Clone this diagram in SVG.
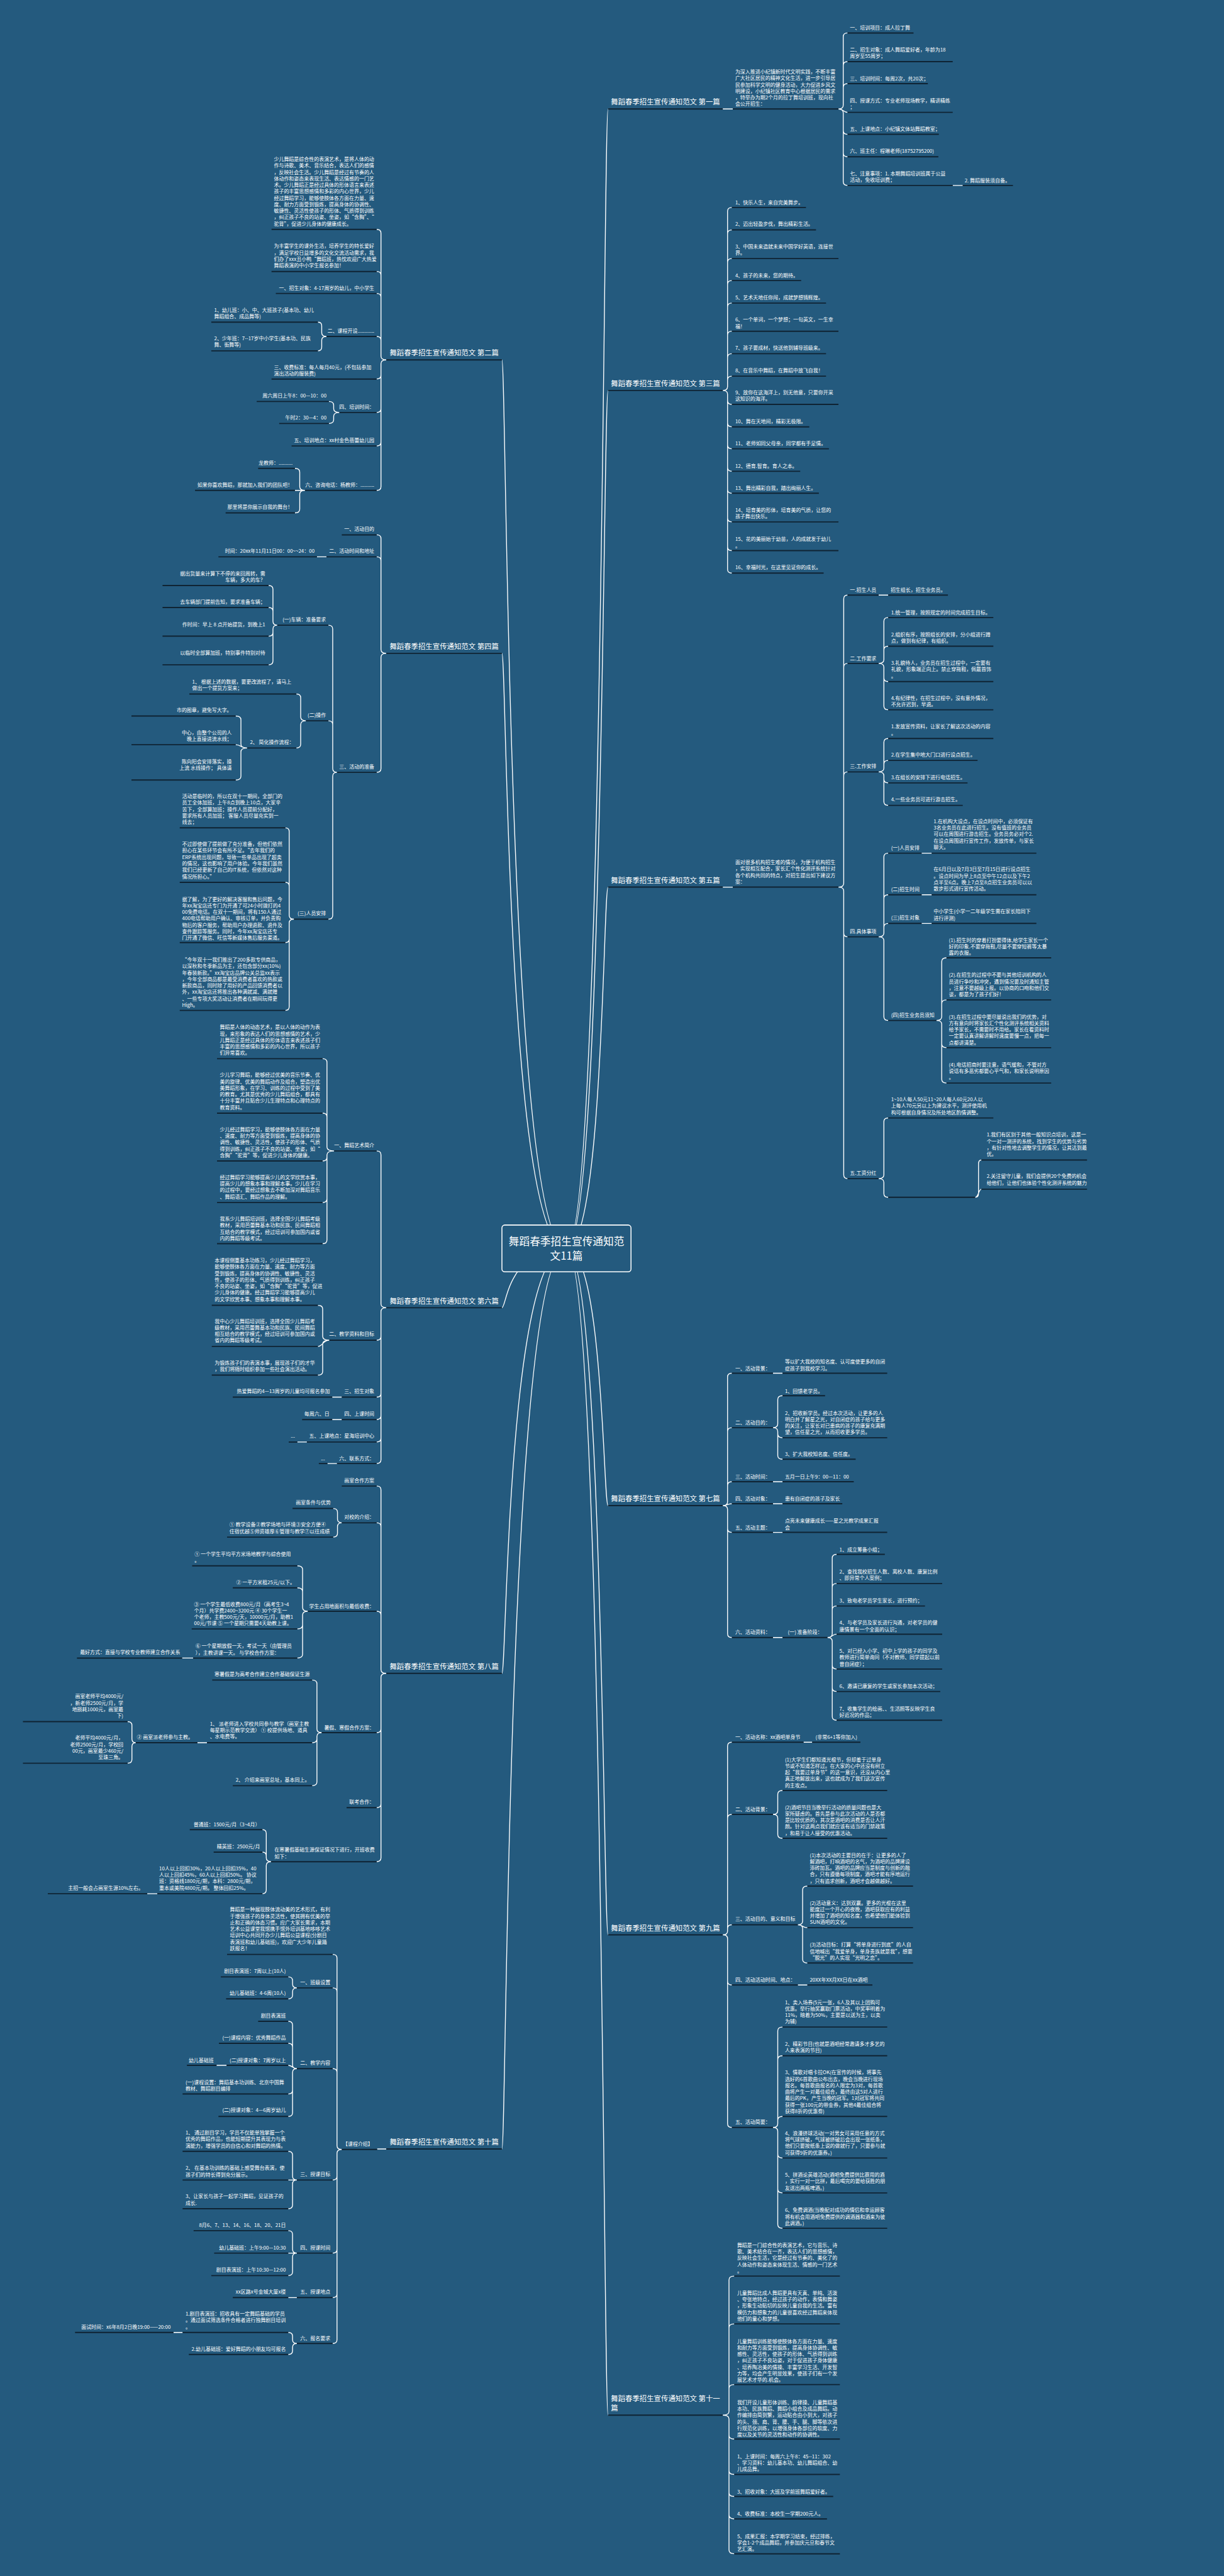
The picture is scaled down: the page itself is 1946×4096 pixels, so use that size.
<svg xmlns="http://www.w3.org/2000/svg" width="1946" height="4096" viewBox="0 0 1946 4096">
<style>
.t{font-family:"Noto Sans CJK SC","Noto Sans",sans-serif;font-size:10.5px;fill:#fff}
.h{font-size:15px}
.r{font-size:22px;text-anchor:middle}
.e{text-anchor:end}
.u{stroke:#0f2333;stroke-width:2.5;fill:none}
.c{stroke:#fff;stroke-width:1.8;fill:none}
</style>
<rect width="1946" height="4096" fill="#245a7e"/>
<g transform="scale(0.76)">
<g id="connectors" class="c">
<path d="M1185 2612C1262 2612 1262 228 1272 228M1185 2612C1262 2612 1262 817 1272 817M1185 2612C1262 2612 1262 1856 1272 1856M1185 2612C1262 2612 1262 3150 1272 3150M1185 2612C1262 2612 1262 4048 1272 4048M1185 2612C1262 2612 1262 5053 1272 5053"/>
<path d="M1185 2612C1060 2612 1060 753 1050 753M1185 2612C1060 2612 1060 1367 1050 1367M1185 2612C1060 2612 1060 2736 1050 2736M1185 2612C1060 2612 1060 3501 1050 3501M1185 2612C1060 2612 1060 4496 1050 4496"/>
<path d="M1512 228H1533M1993 388H2014M1754 228Q1764 228 1764 220V77Q1764 69 1773 69M1754 228Q1764 228 1764 220V137Q1764 129 1773 129M1754 228Q1764 228 1764 220V183Q1764 175 1773 175M1754 228C1764 228 1764 235 1773 235M1754 228Q1764 228 1764 236V273Q1764 281 1773 281M1754 228Q1764 228 1764 236V320Q1764 328 1773 328M1754 228Q1764 228 1764 236V380Q1764 388 1773 388"/>
<path d="M1512 817Q1522 817 1522 809V442Q1522 434 1531 434M1512 817Q1522 817 1522 809V489Q1522 481 1531 481M1512 817Q1522 817 1522 809V549Q1522 541 1531 541M1512 817Q1522 817 1522 809V595Q1522 587 1531 587M1512 817Q1522 817 1522 809V642Q1522 634 1531 634M1512 817Q1522 817 1522 809V701Q1522 693 1531 693M1512 817Q1522 817 1522 809V748Q1522 740 1531 740M1512 817Q1522 817 1522 809V795Q1522 787 1531 787M1512 817Q1522 817 1522 825V838Q1522 846 1531 846M1512 817Q1522 817 1522 825V885Q1522 893 1531 893M1512 817Q1522 817 1522 825V931Q1522 939 1531 939M1512 817Q1522 817 1522 825V978Q1522 986 1531 986M1512 817Q1522 817 1522 825V1024Q1522 1032 1531 1032M1512 817Q1522 817 1522 825V1084Q1522 1092 1531 1092M1512 817Q1522 817 1522 825V1144Q1522 1152 1531 1152M1512 817Q1522 817 1522 825V1191Q1522 1199 1531 1199"/>
<path d="M1512 1856H1533M1754 1856Q1765 1856 1765 1848V1253Q1765 1245 1773 1245M1754 1856Q1765 1856 1765 1848V1396Q1765 1388 1773 1388M1754 1856Q1765 1856 1765 1848V1623Q1765 1615 1773 1615M1754 1856Q1765 1856 1765 1864V1952Q1765 1960 1773 1960M1754 1856Q1765 1856 1765 1864V2458Q1765 2466 1773 2466M1838 1245H1858"/>
<path d="M1838 1388Q1849 1388 1849 1380V1300Q1849 1292 1858 1292M1838 1388Q1849 1388 1849 1380V1360Q1849 1352 1858 1352M1838 1388Q1849 1388 1849 1396V1418Q1849 1426 1858 1426M1838 1388Q1849 1388 1849 1396V1477Q1849 1485 1858 1485"/>
<path d="M1838 1615Q1849 1615 1849 1607V1553Q1849 1545 1858 1545M1838 1615Q1849 1615 1849 1607V1599Q1849 1591 1858 1591M1838 1615Q1849 1615 1849 1623V1630Q1849 1638 1858 1638M1838 1615Q1849 1615 1849 1623V1677Q1849 1685 1858 1685"/>
<path d="M1838 1960Q1849 1960 1849 1952V1793Q1849 1785 1858 1785M1838 1960Q1849 1960 1849 1952V1880Q1849 1872 1858 1872M1838 1960Q1849 1960 1849 1952V1940Q1849 1932 1858 1932M1838 1960Q1849 1960 1849 1968V2127Q1849 2135 1858 2135M1928 1785H1949M1928 1872H1949M1928 1932H1949"/>
<path d="M1959 2135Q1970 2135 1970 2127V2012Q1970 2004 1980 2004M1959 2135Q1970 2135 1970 2127V2100Q1970 2092 1980 2092M1959 2135Q1970 2135 1970 2143V2184Q1970 2192 1980 2192M1959 2135Q1970 2135 1970 2143V2258Q1970 2266 1980 2266"/>
<path d="M1838 2466Q1849 2466 1849 2458V2347Q1849 2339 1858 2339M1838 2466Q1849 2466 1849 2474V2497Q1849 2505 1858 2505M2040 2505Q2047 2505 2047 2497V2435Q2047 2427 2053 2427M2040 2505C2047 2505 2047 2488 2053 2488"/>
<path d="M1512 3150Q1522 3150 1522 3142V2881Q1522 2873 1531 2873M1512 3150Q1522 3150 1522 3142V2995Q1522 2987 1531 2987M1512 3150Q1522 3150 1522 3142V3108Q1522 3100 1531 3100M1512 3150C1522 3150 1522 3146 1531 3146M1512 3150Q1522 3150 1522 3158V3198Q1522 3206 1531 3206M1512 3150Q1522 3150 1522 3158V3418Q1522 3426 1531 3426M1617 2873H1637M1617 3100H1637M1617 3146H1637M1617 3206H1637M1617 3426H1637"/>
<path d="M1617 2987Q1627 2987 1627 2979V2928Q1627 2920 1637 2920M1617 2987Q1627 2987 1627 2995V3000Q1627 3008 1637 3008M1617 2987Q1627 2987 1627 2995V3045Q1627 3053 1637 3053"/>
<path d="M1731 3426Q1741 3426 1741 3418V3260Q1741 3252 1750 3252M1731 3426Q1741 3426 1741 3418V3321Q1741 3313 1750 3313M1731 3426Q1741 3426 1741 3418V3368Q1741 3360 1750 3360M1731 3426C1741 3426 1741 3419 1750 3419M1731 3426Q1741 3426 1741 3434V3484Q1741 3492 1750 3492M1731 3426Q1741 3426 1741 3434V3531Q1741 3539 1750 3539M1731 3426Q1741 3426 1741 3434V3591Q1741 3599 1750 3599"/>
<path d="M1512 4048Q1522 4048 1522 4040V3653Q1522 3645 1531 3645M1512 4048Q1522 4048 1522 4040V3804Q1522 3796 1531 3796M1512 4048Q1522 4048 1522 4040V4035Q1522 4027 1531 4027M1512 4048Q1522 4048 1522 4056V4145Q1522 4153 1531 4153M1512 4048Q1522 4048 1522 4056V4443Q1522 4451 1531 4451M1681 3645H1699M1669 4153H1689"/>
<path d="M1617 3796Q1627 3796 1627 3788V3754Q1627 3746 1637 3746M1617 3796Q1627 3796 1627 3804V3838Q1627 3846 1637 3846M1669 4027Q1679 4027 1679 4019V3954Q1679 3946 1689 3946M1669 4027C1679 4027 1679 4033 1689 4033M1669 4027Q1679 4027 1679 4035V4099Q1679 4107 1689 4107"/>
<path d="M1617 4451Q1627 4451 1627 4443V4249Q1627 4241 1637 4241M1617 4451Q1627 4451 1627 4443V4309Q1627 4301 1637 4301M1617 4451Q1627 4451 1627 4443V4436Q1627 4428 1637 4428M1617 4451Q1627 4451 1627 4459V4507Q1627 4515 1637 4515M1617 4451Q1627 4451 1627 4459V4580Q1627 4588 1637 4588M1617 4451Q1627 4451 1627 4459V4654Q1627 4662 1637 4662"/>
<path d="M1512 5053Q1525 5053 1525 5045V4770Q1525 4762 1536 4762M1512 5053Q1525 5053 1525 5045V4870Q1525 4862 1536 4862M1512 5053Q1525 5053 1525 5045V4997Q1525 4989 1536 4989M1512 5053Q1525 5053 1525 5061V5095Q1525 5103 1536 5103M1512 5053Q1525 5053 1525 5061V5169Q1525 5177 1536 5177M1512 5053Q1525 5053 1525 5061V5215Q1525 5223 1536 5223M1512 5053Q1525 5053 1525 5061V5262Q1525 5270 1536 5270M1512 5053Q1525 5053 1525 5061V5335Q1525 5343 1536 5343"/>
<path d="M808 753Q797 753 797 745V488Q797 480 788 480M808 753Q797 753 797 745V576Q797 568 788 568M808 753Q797 753 797 745V622Q797 614 788 614M808 753Q797 753 797 745V712Q797 704 788 704M808 753Q797 753 797 761V785Q797 793 788 793M808 753Q797 753 797 761V855Q797 863 788 863M808 753Q797 753 797 761V925Q797 933 788 933M808 753Q797 753 797 761V1018Q797 1026 788 1026"/>
<path d="M683 704Q673 704 673 696V682Q673 674 665 674M683 704Q673 704 673 712V726Q673 734 665 734M710 863Q698 863 698 855V848Q698 840 688 840M710 863Q698 863 698 871V878Q698 886 688 886M638 1026Q627 1026 627 1018V988Q627 980 617 980M638 1026H617M638 1026Q627 1026 627 1034V1065Q627 1073 617 1073"/>
<path d="M808 1367Q797 1367 797 1359V1127Q797 1119 788 1119M808 1367Q797 1367 797 1359V1173Q797 1165 788 1165M808 1367Q797 1367 797 1375V1608Q797 1616 788 1616M683 1165H663"/>
<path d="M705 1616Q696 1616 696 1608V1316Q696 1308 687 1308M705 1616Q696 1616 696 1608V1516Q696 1508 687 1508M705 1616Q696 1616 696 1624V1915Q696 1923 687 1923"/>
<path d="M580 1308Q571 1308 571 1300V1233Q571 1225 562 1225M580 1308Q571 1308 571 1300V1279Q571 1271 562 1271M580 1308Q571 1308 571 1316V1323Q571 1331 562 1331M580 1308Q571 1308 571 1316V1383Q571 1391 562 1391"/>
<path d="M640 1508Q629 1508 629 1500V1460Q629 1452 620 1452M640 1508Q629 1508 629 1516V1557Q629 1565 620 1565M517 1565Q504 1565 504 1557V1506Q504 1498 493 1498M517 1565C504 1565 504 1558 493 1558M517 1565Q504 1565 504 1573V1624Q504 1632 493 1632"/>
<path d="M615 1923Q605 1923 605 1915V1740Q605 1732 597 1732M615 1923Q605 1923 605 1915V1854Q605 1846 597 1846M615 1923Q605 1923 605 1931V1964Q605 1972 597 1972M615 1923Q605 1923 605 1931V2106Q605 2114 597 2114"/>
<path d="M808 2736Q797 2736 797 2728V2416Q797 2408 788 2408M808 2736Q797 2736 797 2744V2796Q797 2804 788 2804M808 2736Q797 2736 797 2744V2915Q797 2923 788 2923M808 2736Q797 2736 797 2744V2962Q797 2970 788 2970M808 2736Q797 2736 797 2744V3009Q797 3017 788 3017M808 2736Q797 2736 797 2744V3054Q797 3062 788 3062"/>
<path d="M699 2408Q684 2408 684 2400V2223Q684 2215 675 2215M699 2408Q684 2408 684 2400V2337Q684 2329 675 2329M699 2408Q684 2408 684 2416V2421Q684 2429 675 2429M699 2408Q684 2408 684 2416V2508Q684 2516 675 2516M699 2408Q684 2408 684 2416V2594Q684 2602 675 2602"/>
<path d="M689 2804Q675 2804 675 2796V2739Q675 2731 665 2731M689 2804C675 2804 675 2817 665 2817M689 2804Q675 2804 675 2812V2869Q675 2877 665 2877M715 2923H695M715 2970H695M642 3017H622M705 3062H685"/>
<path d="M808 3501Q797 3501 797 3493V3117Q797 3109 788 3109M808 3501Q797 3501 797 3493V3194Q797 3186 788 3186M808 3501Q797 3501 797 3493V3379Q797 3371 788 3371M808 3501Q797 3501 797 3509V3617Q797 3625 788 3625M808 3501Q797 3501 797 3509V3774Q797 3782 788 3782M808 3501Q797 3501 797 3509V3887Q797 3895 788 3895"/>
<path d="M715 3186Q706 3186 706 3178V3164Q706 3156 697 3156M715 3186Q706 3186 706 3194V3208Q706 3216 697 3216M644 3371Q633 3371 633 3363V3284Q633 3276 622 3276M644 3371Q633 3371 633 3363V3330Q633 3322 622 3322M644 3371Q633 3371 633 3379V3400Q633 3408 622 3408M644 3371Q633 3371 633 3379V3461Q633 3469 622 3469M404 3469H381"/>
<path d="M673 3625Q663 3625 663 3617V3523Q663 3515 653 3515M673 3625Q663 3625 663 3633V3638Q663 3646 653 3646M673 3625Q663 3625 663 3633V3728Q663 3736 653 3736M433 3646H413M284 3646Q276 3646 276 3638V3610Q276 3602 267 3602M284 3646Q276 3646 276 3654V3681Q276 3689 267 3689"/>
<path d="M567 3895Q557 3895 557 3887V3836Q557 3828 549 3828M567 3895Q557 3895 557 3887V3883Q557 3875 549 3875M567 3895Q557 3895 557 3903V3954Q557 3962 549 3962M329 3962H308"/>
<path d="M808 4496H789M715 4497Q705 4497 705 4489V4097Q705 4089 696 4089M715 4497Q705 4497 705 4489V4167Q705 4159 696 4159M715 4497Q705 4497 705 4489V4336Q705 4328 696 4328M715 4497Q705 4497 705 4505V4553Q705 4561 696 4561M715 4497Q705 4497 705 4505V4706Q705 4714 696 4714M715 4497Q705 4497 705 4505V4799Q705 4807 696 4807M715 4497Q705 4497 705 4505V4895Q705 4903 696 4903"/>
<path d="M621 4159Q612 4159 612 4151V4144Q612 4136 603 4136M621 4159Q612 4159 612 4167V4174Q612 4182 603 4182M621 4328Q612 4328 612 4320V4237Q612 4229 603 4229M621 4328Q612 4328 612 4320V4283Q612 4275 603 4275M621 4328C612 4328 612 4321 603 4321M621 4328Q612 4328 612 4336V4373Q612 4381 603 4381M621 4328Q612 4328 612 4336V4420Q612 4428 603 4428M474 4321H453"/>
<path d="M621 4561Q612 4561 612 4553V4509Q612 4501 603 4501M621 4561H603M621 4561Q612 4561 612 4569V4613Q612 4621 603 4621M621 4714Q612 4714 612 4706V4675Q612 4667 603 4667M621 4714H603M621 4714Q612 4714 612 4722V4753Q612 4761 603 4761M621 4807H603M621 4903Q612 4903 612 4895V4888Q612 4880 603 4880M621 4903Q612 4903 612 4911V4918Q612 4926 603 4926M382 4880H363"/>
</g>
<g id="root"><rect x="1050" y="2563" width="270" height="98" rx="6" fill="#245a7e" stroke="#ffffff" stroke-width="2"/><text class="t r" x="1185" y="2605"><tspan x="1185">舞蹈春季招生宣传通知范</tspan><tspan x="1185" dy="30">文11篇</tspan></text></g>
<g id="h1"><text class="t h" x="1278" y="219">舞蹈春季招生宣传通知范文 第一篇</text><path class="u" d="M1272 228H1512"/></g>
<g id="h3"><text class="t h" x="1278" y="808">舞蹈春季招生宣传通知范文 第三篇</text><path class="u" d="M1272 817H1512"/></g>
<g id="h5"><text class="t h" x="1278" y="1847">舞蹈春季招生宣传通知范文 第五篇</text><path class="u" d="M1272 1856H1512"/></g>
<g id="h7"><text class="t h" x="1278" y="3141">舞蹈春季招生宣传通知范文 第七篇</text><path class="u" d="M1272 3150H1512"/></g>
<g id="h9"><text class="t h" x="1278" y="4039">舞蹈春季招生宣传通知范文 第九篇</text><path class="u" d="M1272 4048H1512"/></g>
<g id="h11"><text class="t h" x="1278" y="5024"><tspan x="1278">舞蹈春季招生宣传通知范文 第十一</tspan><tspan x="1278" dy="20">篇</tspan></text><path class="u" d="M1272 5053H1512"/></g>
<g id="h2"><text class="t h" x="815" y="744">舞蹈春季招生宣传通知范文 第二篇</text><path class="u" d="M808 753H1050"/></g>
<g id="h4"><text class="t h" x="815" y="1358">舞蹈春季招生宣传通知范文 第四篇</text><path class="u" d="M808 1367H1050"/></g>
<g id="h6"><text class="t h" x="815" y="2727">舞蹈春季招生宣传通知范文 第六篇</text><path class="u" d="M808 2736H1050"/></g>
<g id="h8"><text class="t h" x="815" y="3492">舞蹈春季招生宣传通知范文 第八篇</text><path class="u" d="M808 3501H1050"/></g>
<g id="h10"><text class="t h" x="815" y="4487">舞蹈春季招生宣传通知范文 第十篇</text><path class="u" d="M808 4496H1050"/></g>

<g id="s1">
<g id="s1n0"><text class="t" x="1538" y="154"><tspan x="1538">为深入推进小纪镇新时代文明实践，不断丰富</tspan><tspan x="1538" dy="13.5">广大社区居民的精神文化生活，进一步引导居</tspan><tspan x="1538" dy="13.5">民参加科学文明的健身活动，大力促进乡风文</tspan><tspan x="1538" dy="13.5">明建设，小纪镇社区教育中心根据居民的需求</tspan><tspan x="1538" dy="13.5">，特举办为期2个月的拉丁舞培训班，现向社</tspan><tspan x="1538" dy="13.5">会公开招生：</tspan></text><path class="u" d="M1533 228H1754"/></g>
<g id="s1n1"><text class="t" x="1778" y="62">一、培训项目：成人拉丁舞</text><path class="u" d="M1773 69H1911"/></g>
<g id="s1n2"><text class="t" x="1778" y="108"><tspan x="1778">二、招生对象：成人舞蹈爱好者，年龄为18</tspan><tspan x="1778" dy="13.5">周岁至55周岁；</tspan></text><path class="u" d="M1773 129H1993"/></g>
<g id="s1n3"><text class="t" x="1778" y="168">三、培训时间：每周2次，共20次；</text><path class="u" d="M1773 175H1941"/></g>
<g id="s1n4"><text class="t" x="1778" y="214"><tspan x="1778">四、授课方式：专业老师现场教学，精讲精练</tspan><tspan x="1778" dy="13.5">；</tspan></text><path class="u" d="M1773 235H1993"/></g>
<g id="s1n5"><text class="t" x="1778" y="274">五、上课地点：小纪镇文体站舞蹈教室；</text><path class="u" d="M1773 281H1964"/></g>
<g id="s1n6"><text class="t" x="1778" y="320">六、班主任：程琳老师(18752795200)</text><path class="u" d="M1773 328H1963"/></g>
<g id="s1n7"><text class="t" x="1778" y="367"><tspan x="1778">七、注意事项：1. 本期舞蹈培训班属于公益</tspan><tspan x="1778" dy="13.5">活动，免收培训费；</tspan></text><path class="u" d="M1773 388H1993"/></g>
<g id="s1n8"><text class="t" x="2018" y="381">2. 舞蹈服装须自备。</text><path class="u" d="M2014 388H2119"/></g>
</g>

<g id="s3">
<g id="s3n1"><text class="t" x="1538" y="427">1、快乐人生，来自完美舞步。</text><path class="u" d="M1531 434H1686"/></g>
<g id="s3n2"><text class="t" x="1538" y="473">2、迈出轻盈步伐，舞出精彩生活。</text><path class="u" d="M1531 481H1707"/></g>
<g id="s3n3"><text class="t" x="1538" y="520"><tspan x="1538">3、中国未来造就未来中国学好英语，连接世</tspan><tspan x="1538" dy="13.5">界。</tspan></text><path class="u" d="M1531 541H1754"/></g>
<g id="s3n4"><text class="t" x="1538" y="580">4、孩子的未来，您的期待。</text><path class="u" d="M1531 587H1676"/></g>
<g id="s3n5"><text class="t" x="1538" y="626">5、艺术天地任你闯，成就梦想铸辉煌。</text><path class="u" d="M1531 634H1728"/></g>
<g id="s3n6"><text class="t" x="1538" y="673"><tspan x="1538">6、一个单词，一个梦想；一句英文，一生幸</tspan><tspan x="1538" dy="13.5">福！</tspan></text><path class="u" d="M1531 693H1754"/></g>
<g id="s3n7"><text class="t" x="1538" y="732">7、孩子要成材，快送他到辅导班级来。</text><path class="u" d="M1531 740H1728"/></g>
<g id="s3n8"><text class="t" x="1538" y="779">8、在音乐中舞蹈，在舞蹈中放飞自我！</text><path class="u" d="M1531 787H1728"/></g>
<g id="s3n9"><text class="t" x="1538" y="825"><tspan x="1538">9、放你在这海洋上，别无他意，只要你开采</tspan><tspan x="1538" dy="13.5">这知识的海洋。</tspan></text><path class="u" d="M1531 846H1754"/></g>
<g id="s3n10"><text class="t" x="1538" y="886">10、舞在天地间，精彩无极限。</text><path class="u" d="M1531 893H1693"/></g>
<g id="s3n11"><text class="t" x="1538" y="932">11、老师如同父母亲，同学都有手足情。</text><path class="u" d="M1531 939H1734"/></g>
<g id="s3n12"><text class="t" x="1538" y="979">12、德育.智育。育人之本。</text><path class="u" d="M1531 986H1674"/></g>
<g id="s3n13"><text class="t" x="1538" y="1025">13、舞出精彩自我，踏出绚丽人生。</text><path class="u" d="M1531 1032H1713"/></g>
<g id="s3n14"><text class="t" x="1538" y="1071"><tspan x="1538">14、培育美的形体，培育美的气质，让您的</tspan><tspan x="1538" dy="13.5">孩子舞出快乐。</tspan></text><path class="u" d="M1531 1092H1754"/></g>
<g id="s3n15"><text class="t" x="1538" y="1132"><tspan x="1538">15、花的美丽始于幼苗，人的成就发于幼儿</tspan><tspan x="1538" dy="13.5">。</tspan></text><path class="u" d="M1531 1152H1754"/></g>
<g id="s3n16"><text class="t" x="1538" y="1191">16、幸福时光，在这里见证你的成长。</text><path class="u" d="M1531 1199H1723"/></g>
</g>

<g id="s5">
<g id="s5n0"><text class="t" x="1538" y="1808"><tspan x="1538">面对很多机构招生难的情况，为便于机构招生</tspan><tspan x="1538" dy="13.5">，实现相互配合，家长汇个性化测评系统针对</tspan><tspan x="1538" dy="13.5">各个机构共同的特点，对招生提出如下建议方</tspan><tspan x="1538" dy="13.5">案：</tspan></text><path class="u" d="M1533 1856H1754"/></g>
<g id="s5a"><text class="t" x="1778" y="1238">一.招生人员</text><path class="u" d="M1773 1245H1838"/></g>
<g id="s5a1"><text class="t" x="1863" y="1238">招生组长，招生业务员。</text><path class="u" d="M1858 1245H1983"/></g>
<g id="s5b"><text class="t" x="1778" y="1381">二.工作要求</text><path class="u" d="M1773 1388H1838"/></g>
<g id="s5b1"><text class="t" x="1864" y="1285">1.统一管理，按照规定的时间完成招生目标。</text><path class="u" d="M1858 1292H2078"/></g>
<g id="s5b2"><text class="t" x="1864" y="1331"><tspan x="1864">2.组织有序，按照组长的安排，分小组进行蹲</tspan><tspan x="1864" dy="13.5">点，做到有纪律，有组织。</tspan></text><path class="u" d="M1858 1352H2078"/></g>
<g id="s5b3"><text class="t" x="1864" y="1391"><tspan x="1864">3.礼貌待人，业务员在招生过程中，一定要有</tspan><tspan x="1864" dy="13.5">礼貌，形象端正向上。禁止穿拖鞋，佩戴首饰</tspan><tspan x="1864" dy="13.5">。</tspan></text><path class="u" d="M1858 1426H2078"/></g>
<g id="s5b4"><text class="t" x="1864" y="1464"><tspan x="1864">4.有纪律性，在招生过程中，没有意外情况，</tspan><tspan x="1864" dy="13.5">不允许迟到，早退。</tspan></text><path class="u" d="M1858 1485H2078"/></g>
<g id="s5c"><text class="t" x="1778" y="1607">三.工作安排</text><path class="u" d="M1773 1615H1838"/></g>
<g id="s5c1"><text class="t" x="1864" y="1524"><tspan x="1864">1.发放宣传资料，让家长了解这次活动的内容</tspan><tspan x="1864" dy="13.5">。</tspan></text><path class="u" d="M1858 1545H2078"/></g>
<g id="s5c2"><text class="t" x="1864" y="1583">2.在学生集中地大门口进行设点招生。</text><path class="u" d="M1858 1591H2045"/></g>
<g id="s5c3"><text class="t" x="1864" y="1630">3.在组长的安排下进行电话招生。</text><path class="u" d="M1858 1638H2024"/></g>
<g id="s5c4"><text class="t" x="1864" y="1676">4.一些业务员可进行游击招生。</text><path class="u" d="M1858 1685H2014"/></g>
<g id="s5d"><text class="t" x="1778" y="1952">四.具体事项</text><path class="u" d="M1773 1960H1838"/></g>
<g id="s5d1"><text class="t" x="1864" y="1777">(一)人员安排</text><path class="u" d="M1858 1785H1928"/></g>
<g id="s5d1a"><text class="t" x="1953" y="1722"><tspan x="1953">1.在机构大设点，在设点时间中，必须保证有</tspan><tspan x="1953" dy="13.5">3名业务员在此进行招生。没有值班的业务员</tspan><tspan x="1953" dy="13.5">可以在周围进行游击招生。业务员务必对个2.</tspan><tspan x="1953" dy="13.5">在设点周围进行宣传工作，发放传单，与家长</tspan><tspan x="1953" dy="13.5">聊天。</tspan></text><path class="u" d="M1949 1785H2168"/></g>
<g id="s5d2"><text class="t" x="1864" y="1864">(二)招生时间</text><path class="u" d="M1858 1872H1928"/></g>
<g id="s5d2a"><text class="t" x="1953" y="1823"><tspan x="1953">在6月日以及7月3日至7月15日进行设点招生</tspan><tspan x="1953" dy="13.5">。设点时间为早上8点至中午12点以及下午2</tspan><tspan x="1953" dy="13.5">点半至6点。晚上7点至8点招生业务员可以以</tspan><tspan x="1953" dy="13.5">散步形式进行宣传活动。</tspan></text><path class="u" d="M1949 1872H2168"/></g>
<g id="s5d3"><text class="t" x="1864" y="1924">(三)招生对象</text><path class="u" d="M1858 1932H1928"/></g>
<g id="s5d3a"><text class="t" x="1953" y="1911"><tspan x="1953">中小学生(小学一二年级学生需在家长陪同下</tspan><tspan x="1953" dy="13.5">进行评测)</tspan></text><path class="u" d="M1949 1932H2168"/></g>
<g id="s5d4"><text class="t" x="1864" y="2128">(四)招生业务员须知</text><path class="u" d="M1858 2135H1959"/></g>
<g id="s5d4a"><text class="t" x="1985" y="1971"><tspan x="1985">(1).招生时的穿着打扮要得体,给学生家长一个</tspan><tspan x="1985" dy="13.5">好的印象.不要穿拖鞋,尽量不要穿短裤等太暴</tspan><tspan x="1985" dy="13.5">露的衣服。</tspan></text><path class="u" d="M1980 2004H2199"/></g>
<g id="s5d4b"><text class="t" x="1985" y="2044"><tspan x="1985">(2).在招生的过程中不要与其他培训机构的人</tspan><tspan x="1985" dy="13.5">员进行争吵和冲突，遇到情况要及时通知主管</tspan><tspan x="1985" dy="13.5">，注意不要越级上报。以协商的口吻和他们交</tspan><tspan x="1985" dy="13.5">谈，都是为了孩子们好！</tspan></text><path class="u" d="M1980 2092H2199"/></g>
<g id="s5d4c"><text class="t" x="1985" y="2131"><tspan x="1985">(3).在招生过程中要尽量说出我们的优势，对</tspan><tspan x="1985" dy="13.5">方有意向时将家长汇个性化测评系统相关资料</tspan><tspan x="1985" dy="13.5">给予家长，不需要时不用给。家长在看资料时</tspan><tspan x="1985" dy="13.5">一定要认真讲解讲解时速度要慢一点，把每一</tspan><tspan x="1985" dy="13.5">点都讲清楚。</tspan></text><path class="u" d="M1980 2192H2199"/></g>
<g id="s5d4d"><text class="t" x="1985" y="2231"><tspan x="1985">(4).电话招商时要注意，语气缓和，不管对方</tspan><tspan x="1985" dy="13.5">说话有多恶劣都要心平气和，和家长说明原因</tspan><tspan x="1985" dy="13.5">。</tspan></text><path class="u" d="M1980 2266H2199"/></g>
<g id="s5e"><text class="t" x="1778" y="2458">五.工资分红</text><path class="u" d="M1773 2466H1838"/></g>
<g id="s5e1"><text class="t" x="1864" y="2304"><tspan x="1864">1~10人每人50元11~20人每人60元20人以</tspan><tspan x="1864" dy="13.5">上每人70元另以上为建议水平，测评使用机</tspan><tspan x="1864" dy="13.5">构可根据自身情况及所处地区酌情调整。</tspan></text><path class="u" d="M1858 2339H2078"/></g>
<g id="s5e2"><path class="u" d="M1858 2505H2040"/></g>
<g id="s5e2a"><text class="t" x="2064" y="2378"><tspan x="2064">1.我们有区别于其他一般知识点培训，这是一</tspan><tspan x="2064" dy="13.5">个一对一测评的系统，找到学生的优势与劣势</tspan><tspan x="2064" dy="13.5">，有针对性地去调整学生的情况，让其达到最</tspan><tspan x="2064" dy="13.5">优。</tspan></text><path class="u" d="M2053 2427H2274"/></g>
<g id="s5e2b"><text class="t" x="2064" y="2465"><tspan x="2064">2.关注留守儿童，我们会提供20个免费的机会</tspan><tspan x="2064" dy="13.5">给他们，让他们也体验个性化测评系统的魅力</tspan></text><path class="u" d="M2053 2488H2274"/></g>
</g>

<g id="s7">
<g id="s7a"><text class="t" x="1538" y="2867">一、活动背景：</text><path class="u" d="M1531 2873H1617"/></g>
<g id="s7a1"><text class="t" x="1642" y="2853"><tspan x="1642">等以扩大我校的知名度、认可度使更多的自闭</tspan><tspan x="1642" dy="13.5">症孩子到我校学习。</tspan></text><path class="u" d="M1637 2873H1856"/></g>
<g id="s7b"><text class="t" x="1538" y="2980">二、活动目的：</text><path class="u" d="M1531 2987H1617"/></g>
<g id="s7b1"><text class="t" x="1642" y="2914">1、回馈老学员。</text><path class="u" d="M1637 2920H1726"/></g>
<g id="s7b2"><text class="t" x="1642" y="2960"><tspan x="1642">2、招收新学员。经过本次活动，让更多的人</tspan><tspan x="1642" dy="13.5">明白并了解星之光，对自闭症的孩子给与更多</tspan><tspan x="1642" dy="13.5">的关注，让家长对已患病的孩子的康复充满期</tspan><tspan x="1642" dy="13.5">望，信任星之光，从而招收更多学员。</tspan></text><path class="u" d="M1637 3008H1856"/></g>
<g id="s7b3"><text class="t" x="1642" y="3046">3、扩大我校知名度、信任度。</text><path class="u" d="M1637 3053H1790"/></g>
<g id="s7c"><text class="t" x="1538" y="3093">三、活动时间：</text><path class="u" d="M1531 3100H1617"/></g>
<g id="s7c1"><text class="t" x="1642" y="3093">五月一日上午9：00—11：00</text><path class="u" d="M1637 3100H1786"/></g>
<g id="s7d"><text class="t" x="1538" y="3139">四、活动对象：</text><path class="u" d="M1531 3146H1617"/></g>
<g id="s7d1"><text class="t" x="1642" y="3139">患有自闭症的孩子及家长</text><path class="u" d="M1637 3146H1762"/></g>
<g id="s7e"><text class="t" x="1538" y="3200">五、活动主题：</text><path class="u" d="M1531 3206H1617"/></g>
<g id="s7e1"><text class="t" x="1642" y="3186"><tspan x="1642">点亮未来健康成长——星之光教学成果汇报</tspan><tspan x="1642" dy="13.5">会</tspan></text><path class="u" d="M1637 3206H1856"/></g>
<g id="s7f"><text class="t" x="1538" y="3419">六、活动资料：</text><path class="u" d="M1531 3426H1617"/></g>
<g id="s7f0"><text class="t" x="1648" y="3419">(一) 准备阶段：</text><path class="u" d="M1637 3426H1731"/></g>
<g id="s7f1"><text class="t" x="1756" y="3246">1、成立筹备小组；</text><path class="u" d="M1750 3252H1851"/></g>
<g id="s7f2"><text class="t" x="1756" y="3292"><tspan x="1756">2、查找我校招生人数、离校人数、康复比例</tspan><tspan x="1756" dy="13.5">、即异常个人案例；</tspan></text><path class="u" d="M1750 3313H1971"/></g>
<g id="s7f3"><text class="t" x="1756" y="3352">3、致电老学员学生家长，进行预约；</text><path class="u" d="M1750 3360H1935"/></g>
<g id="s7f4"><text class="t" x="1756" y="3399"><tspan x="1756">4、与老学员及家长进行沟通，对老学员的健</tspan><tspan x="1756" dy="13.5">康情景有一个全面的认识；</tspan></text><path class="u" d="M1750 3419H1971"/></g>
<g id="s7f5"><text class="t" x="1756" y="3458"><tspan x="1756">5、对已经入小学、初中上学的孩子的同学及</tspan><tspan x="1756" dy="13.5">教师进行简单询问（不对教师、同学提起以前</tspan><tspan x="1756" dy="13.5">曾自闭症）；</tspan></text><path class="u" d="M1750 3492H1971"/></g>
<g id="s7f6"><text class="t" x="1756" y="3531">6、邀请已康复的学生或家长参加本次活动；</text><path class="u" d="M1750 3539H1967"/></g>
<g id="s7f7"><text class="t" x="1756" y="3579"><tspan x="1756">7、收集学生的绘画、、生活照等反映学生良</tspan><tspan x="1756" dy="13.5">好近况的作品；</tspan></text><path class="u" d="M1750 3599H1971"/></g>
</g>

<g id="s9">
<g id="s9a"><text class="t" x="1538" y="3638">一、活动名称：xx酒吧单身节</text><path class="u" d="M1531 3645H1681"/></g>
<g id="s9a1"><text class="t" x="1706" y="3638">(非常6+1等你加入)</text><path class="u" d="M1699 3645H1800"/></g>
<g id="s9b"><text class="t" x="1538" y="3789">二、活动背景：</text><path class="u" d="M1531 3796H1617"/></g>
<g id="s9b1"><text class="t" x="1642" y="3685"><tspan x="1642">(1)大学生们都知道光棍节，但却羞于过单身</tspan><tspan x="1642" dy="13.5">节或不知道怎样过。在大家的心中还没有树立</tspan><tspan x="1642" dy="13.5">起“我要过单身节”的这一意识，还没从内心里</tspan><tspan x="1642" dy="13.5">真正地解放出来，这也就成为了我们这次宣传</tspan><tspan x="1642" dy="13.5">的主攻点。</tspan></text><path class="u" d="M1637 3746H1856"/></g>
<g id="s9b2"><text class="t" x="1642" y="3785"><tspan x="1642">(2)酒吧节目当晚举行活动的质量问题也是大</tspan><tspan x="1642" dy="13.5">家所疑虑的。首先是参与此次活动的人是否都</tspan><tspan x="1642" dy="13.5">是比较优质的，其次是酒吧的消费是否让人汗</tspan><tspan x="1642" dy="13.5">颜。针对这两点我们就应该有适当的门禁政策</tspan><tspan x="1642" dy="13.5">，和易于让人接受的优惠活动。</tspan></text><path class="u" d="M1637 3846H1856"/></g>
<g id="s9c"><text class="t" x="1538" y="4019">三、活动目的、意义和目标</text><path class="u" d="M1531 4027H1669"/></g>
<g id="s9c1"><text class="t" x="1694" y="3885"><tspan x="1694">(1)本次活动的主要目的在于：让更多的人了</tspan><tspan x="1694" dy="13.5">解酒吧，打响酒吧的名气，为酒吧的品牌建设</tspan><tspan x="1694" dy="13.5">添砖加瓦。酒吧的品牌应当是制度与创新的融</tspan><tspan x="1694" dy="13.5">合，只有遵循每项制度，酒吧才能有序地运行</tspan><tspan x="1694" dy="13.5">，只有追求创新，酒吧才会越做越好。</tspan></text><path class="u" d="M1689 3946H1910"/></g>
<g id="s9c2"><text class="t" x="1694" y="3985"><tspan x="1694">(2)活动意义：达到双赢。更多的光棍在这里</tspan><tspan x="1694" dy="13.5">能度过一个开心的夜晚，酒吧获取应有的利益</tspan><tspan x="1694" dy="13.5">并增加了酒吧的知名度，也希望他们能体验到</tspan><tspan x="1694" dy="13.5">SUN酒吧的文化。</tspan></text><path class="u" d="M1689 4033H1910"/></g>
<g id="s9c3"><text class="t" x="1694" y="4073"><tspan x="1694">(3)活动目标：打算“将单身进行到底”的人自</tspan><tspan x="1694" dy="13.5">信地喊出“我爱单身，单身贵族就是我”，想要</tspan><tspan x="1694" dy="13.5">“脱光”的人实现“光明之恋”。</tspan></text><path class="u" d="M1689 4107H1910"/></g>
<g id="s9d"><text class="t" x="1538" y="4146">四、活动活动时间、地点：</text><path class="u" d="M1531 4153H1669"/></g>
<g id="s9d1"><text class="t" x="1694" y="4146">20XX年XX月XX日在xx酒吧</text><path class="u" d="M1689 4153H1825"/></g>
<g id="s9e"><text class="t" x="1538" y="4444">五、活动简要：</text><path class="u" d="M1531 4451H1617"/></g>
<g id="s9e1"><text class="t" x="1642" y="4193"><tspan x="1642">1、卖入场券(5元一张，6人及其以上团购可</tspan><tspan x="1642" dy="13.5">优惠。举行抽奖赢取门票活动，中奖率明着为</tspan><tspan x="1642" dy="13.5">11%，暗着为50%，主要是以送为主，以卖</tspan><tspan x="1642" dy="13.5">为辅)</tspan></text><path class="u" d="M1637 4241H1856"/></g>
<g id="s9e2"><text class="t" x="1642" y="4280"><tspan x="1642">2、精彩节目(也就是酒吧经常邀请多才多艺的</tspan><tspan x="1642" dy="13.5">人来表演的节目)</tspan></text><path class="u" d="M1637 4301H1856"/></g>
<g id="s9e3"><text class="t" x="1642" y="4340"><tspan x="1642">3、情歌对唱卡拉OK(在宣传的时候，将事先</tspan><tspan x="1642" dy="13.5">选好的6首歌曲公布出去，晚会当晚进行现场</tspan><tspan x="1642" dy="13.5">报名。每首歌曲报名的人限定为3对，每首歌</tspan><tspan x="1642" dy="13.5">曲将产生一对最佳组合，最终由这5对人进行</tspan><tspan x="1642" dy="13.5">最后的PK，产生当晚的冠军。1对冠军将共同</tspan><tspan x="1642" dy="13.5">获得一张100元的带金券，其他4最佳组合将</tspan><tspan x="1642" dy="13.5">获得8折的优惠劵)</tspan></text><path class="u" d="M1637 4428H1856"/></g>
<g id="s9e4"><text class="t" x="1642" y="4467"><tspan x="1642">4、浪漫挤球活动(一对男女可采用任意的方式</tspan><tspan x="1642" dy="13.5">将气球挤破，气球被挤破后会出现一张纸条，</tspan><tspan x="1642" dy="13.5">他们只要按纸条上说的做就行了，只要参与就</tspan><tspan x="1642" dy="13.5">可获得9折的优惠券。)</tspan></text><path class="u" d="M1637 4515H1856"/></g>
<g id="s9e5"><text class="t" x="1642" y="4554"><tspan x="1642">5、拼酒论英雄活动(酒吧免费提供比赛用的酒</tspan><tspan x="1642" dy="13.5">，实行一对一比拼，最后喝完的要给获胜的朋</tspan><tspan x="1642" dy="13.5">友送出两瓶啤酒。)</tspan></text><path class="u" d="M1637 4588H1856"/></g>
<g id="s9e6"><text class="t" x="1642" y="4628"><tspan x="1642">6、免费调酒(当晚配对成功的情侣和幸运顾客</tspan><tspan x="1642" dy="13.5">将有机会用酒吧免费提供的调酒器和酒来为彼</tspan><tspan x="1642" dy="13.5">此调酒。)</tspan></text><path class="u" d="M1637 4662H1856"/></g>
</g>

<g id="s11">
<g id="s11n1"><text class="t" x="1542" y="4701"><tspan x="1542">舞蹈是一门综合性的表演艺术，它与音乐、诗</tspan><tspan x="1542" dy="13.5">歌、美术结合在一齐，表达人们的思想感情，</tspan><tspan x="1542" dy="13.5">反映社会生活，它是经过有节奏的、美化了的</tspan><tspan x="1542" dy="13.5">人体动作和姿态来体现生活、情感的一门艺术</tspan><tspan x="1542" dy="13.5">。</tspan></text><path class="u" d="M1536 4762H1757"/></g>
<g id="s11n2"><text class="t" x="1542" y="4801"><tspan x="1542">儿童舞蹈比成人舞蹈更具有天真、单纯、活泼</tspan><tspan x="1542" dy="13.5">、夸张地特点，经过孩子的动作，表情和舞姿</tspan><tspan x="1542" dy="13.5">，形象生动贴切的反映儿童自我的生活。富有</tspan><tspan x="1542" dy="13.5">模仿力和想象力的儿童很喜欢经过舞蹈来体现</tspan><tspan x="1542" dy="13.5">他们的童心和梦想。</tspan></text><path class="u" d="M1536 4862H1757"/></g>
<g id="s11n3"><text class="t" x="1542" y="4902"><tspan x="1542">儿童舞蹈训练能够使肢体各方面在力量、速度</tspan><tspan x="1542" dy="13.5">和耐力等方面受到锻炼，提高身体协调性、敏</tspan><tspan x="1542" dy="13.5">感性、灵活性，使孩子的形体、气质得到训练</tspan><tspan x="1542" dy="13.5">，纠正孩子不良站姿，对于促进孩子身体健康</tspan><tspan x="1542" dy="13.5">、培养陶冶美的情操、丰富学习生活、开发智</tspan><tspan x="1542" dy="13.5">力等，均会产生明显效果，使孩子们有一个发</tspan><tspan x="1542" dy="13.5">展艺术才华的.机会。</tspan></text><path class="u" d="M1536 4989H1757"/></g>
<g id="s11n4"><text class="t" x="1542" y="5030"><tspan x="1542">我们开设儿童形体训练、韵律操、儿童舞蹈基</tspan><tspan x="1542" dy="13.5">本功、民族舞蹈、舞蹈小组合及成品舞蹈。动</tspan><tspan x="1542" dy="13.5">作编排由简到繁，运动贴合由小到大，对孩子</tspan><tspan x="1542" dy="13.5">的头、颈、肩、背、腰、手、腿、脚等依次进</tspan><tspan x="1542" dy="13.5">行规范化训练，以增强身体各部位的软度、力</tspan><tspan x="1542" dy="13.5">度以及关节的灵活性和动作的协调性。</tspan></text><path class="u" d="M1536 5103H1757"/></g>
<g id="s11n5"><text class="t" x="1542" y="5143"><tspan x="1542">1、上课时间：每周六上午8：45--11：302</tspan><tspan x="1542" dy="13.5">、学习资料：幼儿基本功、幼儿舞蹈组合、幼</tspan><tspan x="1542" dy="13.5">儿成品舞。</tspan></text><path class="u" d="M1536 5177H1757"/></g>
<g id="s11n6"><text class="t" x="1542" y="5217">3、招收对象：大班及学前班舞蹈爱好者。</text><path class="u" d="M1536 5223H1743"/></g>
<g id="s11n7"><text class="t" x="1542" y="5263">4、收费标准：本校生一学期200元人。</text><path class="u" d="M1536 5270H1730"/></g>
<g id="s11n8"><text class="t" x="1542" y="5310"><tspan x="1542">5、成果汇报：本学期学习结束，经过排练，</tspan><tspan x="1542" dy="13.5">学会1-2个成品舞蹈，并参加庆元旦和春节文</tspan><tspan x="1542" dy="13.5">艺汇演。</tspan></text><path class="u" d="M1536 5343H1757"/></g>
</g>

<g id="s2">
<g id="s2a"><text class="t" x="573" y="337"><tspan x="573">少儿舞蹈是综合性的表演艺术，是将人体的动</tspan><tspan x="573" dy="13.5">作与诗歌、美术、音乐结合，表达人们的感情</tspan><tspan x="573" dy="13.5">，反映社会生活。少儿舞蹈是经过有节奏的人</tspan><tspan x="573" dy="13.5">体动作和姿态来表现生活、表达情感的一门艺</tspan><tspan x="573" dy="13.5">术。少儿舞蹈正是经过具体的形体语言来表述</tspan><tspan x="573" dy="13.5">孩子的丰富思想感情和多彩的内心世界，少儿</tspan><tspan x="573" dy="13.5">经过舞蹈学习，能够使肢体各方面在力量、速</tspan><tspan x="573" dy="13.5">度、耐力方面受到锻炼，提高身体的协调性、</tspan><tspan x="573" dy="13.5">敏捷性、灵活性使孩子的形体、气质得到训练</tspan><tspan x="573" dy="13.5">，纠正孩子不良的站姿、坐姿，如“含胸”、“</tspan><tspan x="573" dy="13.5">驼背”，促进少儿身体的健康成长。</tspan></text><path class="u" d="M568 480H788"/></g>
<g id="s2b"><text class="t" x="573" y="519"><tspan x="573">为丰富学生的课外生活，培养学生的特长爱好</tspan><tspan x="573" dy="13.5">，满足学校日益增多的文化交流活动需求，我</tspan><tspan x="573" dy="13.5">们办了xxx丑小鸭“舞蹈班，热忱欢迎广大热爱</tspan><tspan x="573" dy="13.5">舞蹈表演的中小学生报名参加！</tspan></text><path class="u" d="M568 568H788"/></g>
<g id="s2c"><text class="t e" x="783" y="606">一、招生对象：4-17周岁的幼儿，中小学生</text><path class="u" d="M577 614H788"/></g>
<g id="s2d"><text class="t e" x="783" y="696">二、课程开设............</text><path class="u" d="M683 704H788"/></g>
<g id="s2d1"><text class="t" x="448" y="652"><tspan x="448">1、幼儿班：小、中、大班孩子(基本功、幼儿</tspan><tspan x="448" dy="13.5">舞蹈组合、成品舞等)</tspan></text><path class="u" d="M442 674H665"/></g>
<g id="s2d2"><text class="t" x="448" y="712"><tspan x="448">2、少年班：7--17岁中小学生(基本功、民族</tspan><tspan x="448" dy="13.5">舞、街舞等)</tspan></text><path class="u" d="M442 734H665"/></g>
<g id="s2e"><text class="t" x="573" y="772"><tspan x="573">三、收费标准：每人每月40元，(不包括参加</tspan><tspan x="573" dy="13.5">演出活动的服装费)</tspan></text><path class="u" d="M568 793H788"/></g>
<g id="s2f"><text class="t e" x="783" y="855">四、培训时间：</text><path class="u" d="M710 863H788"/></g>
<g id="s2f1"><text class="t e" x="683" y="832">周六周日上午8：00—10：00</text><path class="u" d="M537 840H688"/></g>
<g id="s2f2"><text class="t e" x="683" y="878">午时2：30—4：00</text><path class="u" d="M584 886H688"/></g>
<g id="s2g"><text class="t e" x="783" y="925">五、培训地点：xx村金色蓓蕾幼儿园</text><path class="u" d="M610 933H788"/></g>
<g id="s2h"><text class="t e" x="783" y="1019">六、咨询电话：杨教师：..........</text><path class="u" d="M638 1026H788"/></g>
<g id="s2h1"><text class="t e" x="612" y="972">龙教师：..........</text><path class="u" d="M540 980H617"/></g>
<g id="s2h2"><text class="t e" x="612" y="1019">如果你喜欢舞蹈，那就加入我们的团队吧！</text><path class="u" d="M408 1026H617"/></g>
<g id="s2h3"><text class="t e" x="612" y="1064">那里将是你展示自我的舞台！</text><path class="u" d="M472 1073H617"/></g>
</g>

<g id="s4">
<g id="s4a"><text class="t e" x="783" y="1111">一、活动目的</text><path class="u" d="M715 1119H788"/></g>
<g id="s4b"><text class="t e" x="783" y="1157">二、活动时间和地址</text><path class="u" d="M683 1165H788"/></g>
<g id="s4b1"><text class="t e" x="658" y="1157">时间：20xx年11月11日00：00~~24：00</text><path class="u" d="M457 1165H663"/></g>
<g id="s4c"><text class="t e" x="783" y="1608">三、活动的准备</text><path class="u" d="M705 1616H788"/></g>
<g id="s4c1"><text class="t e" x="682" y="1300">(一)车辆：准备要求</text><path class="u" d="M580 1308H687"/></g>
<g id="s4c1a"><text class="t e" x="555" y="1204"><tspan x="555">据出货量来计算下不停的来回周转，需</tspan><tspan x="555" dy="13.5">车辆，多大的车？</tspan></text><path class="u" d="M340 1225H562"/></g>
<g id="s4c1b"><text class="t e" x="555" y="1263">去车辆部门提前告知，要求准备车辆；</text><path class="u" d="M340 1271H562"/></g>
<g id="s4c1c"><text class="t e" x="555" y="1310">作时间：早上 8 点开始提货，到晚上1</text><path class="u" d="M340 1331H562"/></g>
<g id="s4c1d"><text class="t e" x="555" y="1370">以临时全部算加班，特别事件特别对待</text><path class="u" d="M340 1391H562"/></g>
<g id="s4c2"><text class="t e" x="682" y="1500">(二)操作</text><path class="u" d="M640 1508H687"/></g>
<g id="s4c2a"><text class="t" x="402" y="1430"><tspan x="402">1、 根据上述的数据，要更改流程了，请马上</tspan><tspan x="402" dy="13.5">做出一个提货方案来；</tspan></text><path class="u" d="M396 1452H620"/></g>
<g id="s4c2b"><text class="t e" x="615" y="1557">2、 简化操作流程：</text><path class="u" d="M517 1565H620"/></g>
<g id="s4c2b1"><text class="t e" x="485" y="1490">市的图章，避免写大字。</text><path class="u" d="M275 1498H493"/></g>
<g id="s4c2b2"><text class="t e" x="485" y="1537"><tspan x="485">中心，由整个公司的人</tspan><tspan x="485" dy="13.5">晚上直接进流水线；</tspan></text><path class="u" d="M275 1558H493"/></g>
<g id="s4c2b3"><text class="t e" x="485" y="1597"><tspan x="485">陈向阳会安排落实，操</tspan><tspan x="485" dy="13.5">上流 水线操作； 具体请</tspan></text><path class="u" d="M275 1632H493"/></g>
<g id="s4c3"><text class="t e" x="682" y="1915">(三)人员安排</text><path class="u" d="M615 1923H687"/></g>
<g id="s4c3a"><text class="t" x="381" y="1670"><tspan x="381">活动是临时的，所以在双十一期间，全部门的</tspan><tspan x="381" dy="13.5">员工全体加班，上午8点到晚上10点，大家辛</tspan><tspan x="381" dy="13.5">苦下，全部算加班；操作人员提前分配好，</tspan><tspan x="381" dy="13.5">要求所有人员加班； 客服人员尽量充实到一</tspan><tspan x="381" dy="13.5">线去；</tspan></text><path class="u" d="M376 1732H597"/></g>
<g id="s4c3b"><text class="t" x="381" y="1770"><tspan x="381">不过即使做了提前做了充分准备，但他们依然</tspan><tspan x="381" dy="13.5">担心在某些环节会有所不足。“去年我们的</tspan><tspan x="381" dy="13.5">ERP系统出现问题，导致一些单品出现了超卖</tspan><tspan x="381" dy="13.5">的情况，这也影响了用户体验。今年我们虽然</tspan><tspan x="381" dy="13.5">我们已经更新了自己的IT系统，但依然对这种</tspan><tspan x="381" dy="13.5">情况所担心。”</tspan></text><path class="u" d="M376 1846H597"/></g>
<g id="s4c3c"><text class="t" x="381" y="1885"><tspan x="381">据了解，为了更好的解决客服和售后问题，今</tspan><tspan x="381" dy="13.5">年xx淘宝店还专门为开通了可24小时拨打的4</tspan><tspan x="381" dy="13.5">00免费电话。在双十一期间，将有150人通过</tspan><tspan x="381" dy="13.5">400电话帮助用户确认、审核订单，并负责购</tspan><tspan x="381" dy="13.5">物后的客户服务，帮助用户办理退款、退件及</tspan><tspan x="381" dy="13.5">查件跟踪等服务。同时，今年xx淘宝店还专</tspan><tspan x="381" dy="13.5">门开通了微信、旺信等新媒体售后服务渠道。</tspan></text><path class="u" d="M376 1972H597"/></g>
<g id="s4c3d"><text class="t" x="381" y="2012"><tspan x="381">“今年双十一我们推出了200多款专供商品，</tspan><tspan x="381" dy="13.5">以深秋和冬季新品为主，还包含部分xx(10%)</tspan><tspan x="381" dy="13.5">年春装新款。”xx淘宝店品牌公关总监xx表示</tspan><tspan x="381" dy="13.5">，今年全部商品都是最受消费者喜欢的热款或</tspan><tspan x="381" dy="13.5">新款商品，同时除了用好的产品回馈消费者以</tspan><tspan x="381" dy="13.5">外，xx淘宝店还将推出各种满就减、满就赠</tspan><tspan x="381" dy="13.5">、一些专项大奖活动让消费者在期间玩得更</tspan><tspan x="381" dy="13.5">High。</tspan></text><path class="u" d="M376 2114H597"/></g>
</g>

<g id="s6">
<g id="s6a"><text class="t e" x="783" y="2400">一、舞蹈艺术简介</text><path class="u" d="M699 2408H788"/></g>
<g id="s6a1"><text class="t" x="460" y="2153"><tspan x="460">舞蹈是人体的动态艺术，是以人体的动作为表</tspan><tspan x="460" dy="13.5">现，来形象的表达人们的思想感情的艺术，少</tspan><tspan x="460" dy="13.5">儿舞蹈正是经过具体的形体语言来表述孩子们</tspan><tspan x="460" dy="13.5">丰富的思想感情和多彩的内心世界，所以孩子</tspan><tspan x="460" dy="13.5">们异常喜欢。</tspan></text><path class="u" d="M454 2215H675"/></g>
<g id="s6a2"><text class="t" x="460" y="2253"><tspan x="460">少儿学习舞蹈，能够经过优美的音乐节奏、优</tspan><tspan x="460" dy="13.5">美的旋律、优美的舞蹈动作及组合，塑造出优</tspan><tspan x="460" dy="13.5">美舞蹈形象，在学习、训练的过程中受到了美</tspan><tspan x="460" dy="13.5">的教育。尤其是优秀的少儿舞蹈组合，都具有</tspan><tspan x="460" dy="13.5">十分丰富并且贴合少儿生理特点和心理特点的</tspan><tspan x="460" dy="13.5">教育资料。</tspan></text><path class="u" d="M454 2329H675"/></g>
<g id="s6a3"><text class="t" x="460" y="2367"><tspan x="460">少儿经过舞蹈学习，能够使肢体各方面在力量</tspan><tspan x="460" dy="13.5">、速度、耐力等方面受到锻炼，提高身体的协</tspan><tspan x="460" dy="13.5">调性、敏捷性、灵活性，使孩子的形体、气质</tspan><tspan x="460" dy="13.5">得到训练，纠正孩子不良的站姿、坐姿，如“</tspan><tspan x="460" dy="13.5">含胸”“驼背”等，促进少儿身体的健康。</tspan></text><path class="u" d="M454 2429H675"/></g>
<g id="s6a4"><text class="t" x="460" y="2467"><tspan x="460">经过舞蹈学习能够提高少儿的文学欣赏本事，</tspan><tspan x="460" dy="13.5">提高少儿的想象本事和理解本事。少儿在学习</tspan><tspan x="460" dy="13.5">的过程中，要经过想象去不断加深对舞蹈音乐</tspan><tspan x="460" dy="13.5">、舞蹈语汇、舞蹈作品的理解。</tspan></text><path class="u" d="M454 2516H675"/></g>
<g id="s6a5"><text class="t" x="460" y="2554"><tspan x="460">我系少儿舞蹈培训班，选择全国少儿舞蹈考级</tspan><tspan x="460" dy="13.5">教材，采用芭蕾舞基本功和民族、民间舞蹈相</tspan><tspan x="460" dy="13.5">互结合的教学模式，经过培训可参加国内或省</tspan><tspan x="460" dy="13.5">内的舞蹈等级考试。</tspan></text><path class="u" d="M454 2602H675"/></g>
<g id="s6b"><text class="t e" x="783" y="2795">二、教学资料和目标</text><path class="u" d="M689 2804H788"/></g>
<g id="s6b1"><text class="t" x="449" y="2641"><tspan x="449">本课程侧重基本功练习，少儿经过舞蹈学习，</tspan><tspan x="449" dy="13.5">能够使肢体各方面在力量、速度、耐力等方面</tspan><tspan x="449" dy="13.5">受到锻炼，提高身体的协调性、敏捷性、灵活</tspan><tspan x="449" dy="13.5">性，使孩子的形体、气质得到训练，纠正孩子</tspan><tspan x="449" dy="13.5">不良的站姿、坐姿，如“含胸”“驼背”等，促进</tspan><tspan x="449" dy="13.5">少儿身体的健康。经过舞蹈学习能够提高少儿</tspan><tspan x="449" dy="13.5">的文学欣赏本事、想象本事和理解本事。</tspan></text><path class="u" d="M443 2731H665"/></g>
<g id="s6b2"><text class="t" x="449" y="2768"><tspan x="449">我中心少儿舞蹈培训班，选择全国少儿舞蹈考</tspan><tspan x="449" dy="13.5">级教材，采用芭蕾舞基本功和民族、民间舞蹈</tspan><tspan x="449" dy="13.5">相互结合的教学模式，经过培训可参加国内或</tspan><tspan x="449" dy="13.5">省内的舞蹈等级考试。</tspan></text><path class="u" d="M443 2817H665"/></g>
<g id="s6b3"><text class="t" x="449" y="2855"><tspan x="449">为锻炼孩子们的表演本事，展现孩子们的才华</tspan><tspan x="449" dy="13.5">，我们将随时组织参加一些社会演出活动。</tspan></text><path class="u" d="M443 2877H665"/></g>
<g id="s6c"><text class="t e" x="783" y="2915">三、招生对象</text><path class="u" d="M715 2923H788"/></g>
<g id="s6c1"><text class="t e" x="690" y="2915">热爱舞蹈的4—13周岁的儿童均可报名参加</text><path class="u" d="M487 2923H695"/></g>
<g id="s6d"><text class="t e" x="783" y="2962">四、上课时间</text><path class="u" d="M715 2970H788"/></g>
<g id="s6d1"><text class="t e" x="689" y="2962">每周六、日</text><path class="u" d="M632 2970H695"/></g>
<g id="s6e"><text class="t e" x="783" y="3008">五、上课地点：星海培训中心</text><path class="u" d="M642 3017H788"/></g>
<g id="s6e1"><text class="t e" x="617" y="3008">...</text><path class="u" d="M604 3017H622"/></g>
<g id="s6f"><text class="t e" x="783" y="3055">六、联系方式：</text><path class="u" d="M705 3062H788"/></g>
<g id="s6f1"><text class="t e" x="680" y="3055">...</text><path class="u" d="M667 3062H685"/></g>
</g>

<g id="s8">
<g id="s8a"><text class="t e" x="783" y="3101">画室合作方案</text><path class="u" d="M715 3109H788"/></g>
<g id="s8b"><text class="t e" x="783" y="3178">对校的介绍：</text><path class="u" d="M715 3186H788"/></g>
<g id="s8b1"><text class="t e" x="692" y="3148">画室条件与优势</text><path class="u" d="M612 3156H697"/></g>
<g id="s8b2"><text class="t" x="480" y="3194"><tspan x="480">① 教学设备②教学场地与环境③安全方便④</tspan><tspan x="480" dy="13.5">住宿优越⑤师资雄厚⑥管理与教学⑦以往成绩</tspan></text><path class="u" d="M475 3216H697"/></g>
<g id="s8c"><text class="t e" x="783" y="3365">学生占用地面积与最低收费：</text><path class="u" d="M644 3371H788"/></g>
<g id="s8c1"><text class="t" x="407" y="3255"><tspan x="407">① 一个学生平均平方米场地教学与综合使用</tspan><tspan x="407" dy="13.5">。</tspan></text><path class="u" d="M402 3276H622"/></g>
<g id="s8c2"><text class="t e" x="617" y="3314">② 一平方米租25元/以下。</text><path class="u" d="M487 3322H622"/></g>
<g id="s8c3"><text class="t" x="406" y="3360"><tspan x="406">③ 一个学生最低收费800元/月（高考生3~4</tspan><tspan x="406" dy="13.5">个月）共学费2400~3200元 ④ 30个学生一</tspan><tspan x="406" dy="13.5">个老师，主教500元/天，10000元/月，助教1</tspan><tspan x="406" dy="13.5">00元/节课 ⑤ 一个星期只需要4天助教上课。</tspan></text><path class="u" d="M401 3408H622"/></g>
<g id="s8c4"><text class="t" x="409" y="3448"><tspan x="409">⑥ 一个星期放假一天，考试一天（由管理员</tspan><tspan x="409" dy="13.5">），主教讲课一天。 与学校合作方案：</tspan></text><path class="u" d="M404 3469H622"/></g>
<g id="s8c4a"><text class="t e" x="377" y="3461">最好方式：直接与学校专业教师建立合作关系</text><path class="u" d="M161 3469H381"/></g>
<g id="s8d"><text class="t e" x="783" y="3618">暑假、寒假合作方案：</text><path class="u" d="M673 3625H788"/></g>
<g id="s8d1"><text class="t e" x="648" y="3507">寒暑假是为高考合作建立合作基础保证生源</text><path class="u" d="M444 3515H653"/></g>
<g id="s8d2"><text class="t" x="439" y="3610"><tspan x="439">1、 派老师进入学校共同参与教学（画室主教</tspan><tspan x="439" dy="13.5">每星期示范教学交流） ① 校提供场地、道具</tspan><tspan x="439" dy="13.5">、水电费等。</tspan></text><path class="u" d="M433 3646H653"/></g>
<g id="s8d2a"><text class="t e" x="404" y="3638">② 画室派老师参与主教。</text><path class="u" d="M284 3646H413"/></g>
<g id="s8d2a1"><text class="t e" x="258" y="3553"><tspan x="258">画室老师平均4000元/</tspan><tspan x="258" dy="13.5">，新老师2500元/月，学</tspan><tspan x="258" dy="13.5">地损耗1000元，画室最</tspan><tspan x="258" dy="13.5">下)</tspan></text><path class="u" d="M48 3602H267"/></g>
<g id="s8d2a2"><text class="t e" x="258" y="3640"><tspan x="258">老师平均4000元/月，</tspan><tspan x="258" dy="13.5">老师2500元/月，学校回</tspan><tspan x="258" dy="13.5">00元，画室最少460元/</tspan><tspan x="258" dy="13.5">至珠三角。</tspan></text><path class="u" d="M48 3689H267"/></g>
<g id="s8d3"><text class="t e" x="648" y="3727">2、 介绍来画室总址，基本同上。</text><path class="u" d="M487 3736H653"/></g>
<g id="s8e"><text class="t e" x="783" y="3774">联考合作：</text><path class="u" d="M725 3782H788"/></g>
<g id="s8f"><text class="t" x="574" y="3874"><tspan x="574">在寒暑假基础生源保证情况下进行，开班收费</tspan><tspan x="574" dy="13.5">如下：</tspan></text><path class="u" d="M567 3895H788"/></g>
<g id="s8f1"><text class="t e" x="544" y="3821">普通班：1500元/月（3~4月）</text><path class="u" d="M397 3828H549"/></g>
<g id="s8f2"><text class="t e" x="544" y="3867">精英班：2500元/月</text><path class="u" d="M447 3875H549"/></g>
<g id="s8f3"><text class="t" x="333" y="3913"><tspan x="333">10人以上回扣30%，20人以上回扣35%，40</tspan><tspan x="333" dy="13.5">人以上回扣45%，60人以上回扣50%。 协议</tspan><tspan x="333" dy="13.5">班：资格线1800元/期，本科：2800元/期，</tspan><tspan x="333" dy="13.5">重本或美院4800元/期。 整体回扣25%。</tspan></text><path class="u" d="M329 3962H549"/></g>
<g id="s8f3a"><text class="t e" x="300" y="3954">主招一般会占画室生源10%左右。</text><path class="u" d="M100 3962H308"/></g>
</g>

<g id="s10">
<g id="s10a"><text class="t e" x="780" y="4489">【课程介绍】</text><path class="u" d="M715 4497H789"/></g>
<g id="s10a1"><text class="t" x="481" y="3999"><tspan x="481">舞蹈是一种展现肢体流动美的艺术形式，有利</tspan><tspan x="481" dy="13.5">于增强孩子的身体灵活性，使其拥有优美的举</tspan><tspan x="481" dy="13.5">止和正确的体态习惯。应广大家长需求，本期</tspan><tspan x="481" dy="13.5">艺术公益课堂我馆携手馆外培训基地哆哆艺术</tspan><tspan x="481" dy="13.5">培训中心共同开办少儿舞蹈公益课程(分剧目</tspan><tspan x="481" dy="13.5">表演班和幼儿基础班)，欢迎广大少年儿童踊</tspan><tspan x="481" dy="13.5">跃报名！</tspan></text><path class="u" d="M475 4089H696"/></g>
<g id="s10b"><text class="t e" x="691" y="4151">一、班级设置</text><path class="u" d="M621 4159H696"/></g>
<g id="s10b1"><text class="t e" x="598" y="4128">剧目表演班：7周以上(10人)</text><path class="u" d="M462 4136H603"/></g>
<g id="s10b2"><text class="t e" x="598" y="4174">幼儿基础班：4-6周(10人)</text><path class="u" d="M473 4182H603"/></g>
<g id="s10c"><text class="t e" x="691" y="4320">二、教学内容</text><path class="u" d="M621 4328H696"/></g>
<g id="s10c1"><text class="t e" x="598" y="4221">剧目表演班</text><path class="u" d="M540 4229H603"/></g>
<g id="s10c2"><text class="t e" x="598" y="4267">(一)课程内容：优秀舞蹈作品</text><path class="u" d="M458 4275H603"/></g>
<g id="s10c3"><text class="t e" x="598" y="4314">(二)授课对象：7周岁以上</text><path class="u" d="M474 4321H603"/></g>
<g id="s10c3a"><text class="t e" x="447" y="4314">幼儿基础班</text><path class="u" d="M391 4321H453"/></g>
<g id="s10c4"><text class="t" x="388" y="4360"><tspan x="388">(一)课程设置：舞蹈基本功训练、北京中国舞</tspan><tspan x="388" dy="13.5">教材、舞蹈剧目编排</tspan></text><path class="u" d="M382 4381H603"/></g>
<g id="s10c5"><text class="t e" x="598" y="4419">(二)授课对象：4—6周岁幼儿</text><path class="u" d="M457 4428H603"/></g>
<g id="s10d"><text class="t e" x="691" y="4553">三、授课目标</text><path class="u" d="M621 4561H696"/></g>
<g id="s10d1"><text class="t" x="388" y="4466"><tspan x="388">1、 通过剧目学习，学员不仅能单独掌握一个</tspan><tspan x="388" dy="13.5">优秀的舞蹈作品，也能短期提升其表现力与表</tspan><tspan x="388" dy="13.5">演能力，增强学员的自信心和对舞蹈的热情。</tspan></text><path class="u" d="M382 4501H603"/></g>
<g id="s10d2"><text class="t" x="388" y="4540"><tspan x="388">2、 在基本功训练的基础上感受舞台表演，使</tspan><tspan x="388" dy="13.5">孩子们的特长得到充分展示。</tspan></text><path class="u" d="M382 4561H603"/></g>
<g id="s10d3"><text class="t" x="388" y="4599"><tspan x="388">3、让家长与孩子一起学习舞蹈，见证孩子的</tspan><tspan x="388" dy="13.5">成长.</tspan></text><path class="u" d="M382 4621H603"/></g>
<g id="s10e"><text class="t e" x="691" y="4706">四、授课时间</text><path class="u" d="M621 4714H696"/></g>
<g id="s10e1"><text class="t e" x="598" y="4659">8月6、7、13、14、16、18、20、21日</text><path class="u" d="M405 4667H603"/></g>
<g id="s10e2"><text class="t e" x="598" y="4706">幼儿基础班：上午9:00—10:30</text><path class="u" d="M448 4714H603"/></g>
<g id="s10e3"><text class="t e" x="598" y="4753">剧目表演班：上午10:30—12:00</text><path class="u" d="M442 4761H603"/></g>
<g id="s10f"><text class="t e" x="691" y="4799">五、授课地点</text><path class="u" d="M621 4807H696"/></g>
<g id="s10f1"><text class="t e" x="598" y="4799">xx区路x号金城大厦x楼</text><path class="u" d="M487 4807H603"/></g>
<g id="s10g"><text class="t e" x="691" y="4896">六、报名要求</text><path class="u" d="M621 4903H696"/></g>
<g id="s10g1"><text class="t" x="388" y="4845"><tspan x="388">1.剧目表演班：招收具有一定舞蹈基础的学员</tspan><tspan x="388" dy="13.5">。通过面试筛选条件合格者进行独舞剧目培训</tspan><tspan x="388" dy="13.5">。</tspan></text><path class="u" d="M382 4880H603"/></g>
<g id="s10g1a"><text class="t e" x="357" y="4872">面试时间：x6年8月2日晚19:00——20:00</text><path class="u" d="M157 4880H363"/></g>
<g id="s10g2"><text class="t e" x="598" y="4918">2.幼儿基础班：爱好舞蹈的小朋友均可报名</text><path class="u" d="M395 4926H603"/></g>
</g>
</g>
</svg>
